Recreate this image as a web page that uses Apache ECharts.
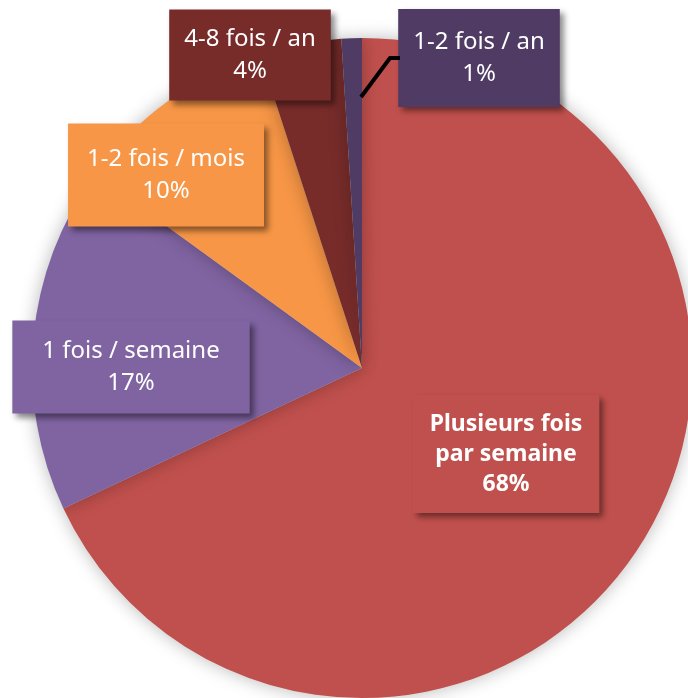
<!DOCTYPE html>
<html>
<head>
<meta charset="utf-8">
<script src="https://cdn.jsdelivr.net/npm/echarts@6/dist/echarts.min.js"></script>
<style>
  html, body { margin: 0; padding: 0; background: #fff; }
  #chart { width: 688px; height: 698px; }
</style>
</head>
<body>
<div id="chart"></div>
<script>
// frequency categories and their shares (%)
var categories = ['Plusieurs fois\npar semaine', '1 fois / semaine', '1-2 fois / mois', '4-8 fois / an', '1-2 fois / an'];
var values = [68, 17, 10, 4, 1];
var colors = ['#C0504D', '#8064A2', '#F79646', '#772C2A', '#4F3B63'];

// label boxes: centre and padding, in pixels
var labelSpots = [[506, 454], [131, 367], [166, 175], [250, 55], [479, 58]];
var labelPads = [[15, 17, 13, 17], [15, 30, 14, 30], [20, 19, 19, 19], [14, 15, 13, 15], [17, 15, 17, 15]];
// leader line of the smallest slice's label
var leaderPoints = [[361, 97], [390, 58], [400, 58]];

var myChart = echarts.init(document.getElementById('chart'));

var data = categories.map(function (name, i) {
  var big = i === 0;
  return {
    name: name,
    value: values[i],
    itemStyle: { color: colors[i] },
    label: {
      backgroundColor: colors[i],
      fontWeight: big ? 'bold' : 'normal',
      fontSize: big ? 23 : 24,
      lineHeight: big ? 30 : 32,
      padding: labelPads[i]
    }
  };
});

var option = {
  animation: false,
  graphic: [{
    type: 'polyline',
    z: 100,
    shape: { points: leaderPoints },
    style: { stroke: '#000', lineWidth: 4, fill: null }
  }],
  series: [{
    type: 'pie',
    center: [362, 368],
    radius: 330,
    startAngle: 90,
    clockwise: true,
    data: data,
    itemStyle: {
      shadowBlur: 18,
      shadowColor: 'rgba(0,0,0,0.28)'
    },
    label: {
      show: true,
      position: 'inside',
      color: '#fff',
      fontFamily: 'Noto Sans',
      overflow: 'none',
      align: 'center',
      shadowColor: 'rgba(0,0,0,0.45)',
      shadowBlur: 6,
      shadowOffsetX: 4,
      shadowOffsetY: 4,
      formatter: function (p) {
        return p.name + '\n' + p.value + '%';
      }
    },
    labelLine: { show: false },
    labelLayout: function (params) {
      var s = labelSpots[params.dataIndex];
      return { x: s[0], y: s[1], align: 'center', verticalAlign: 'middle' };
    }
  }]
};

myChart.setOption(option);
</script>
</body>
</html>
